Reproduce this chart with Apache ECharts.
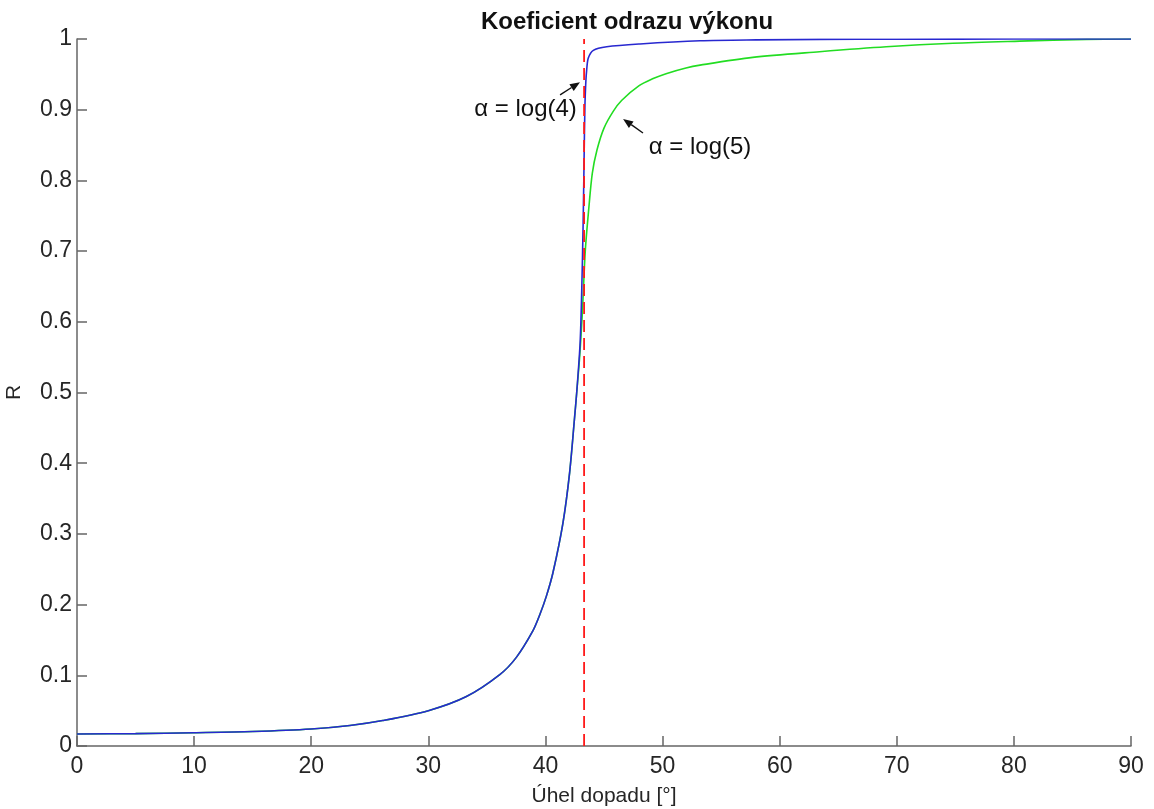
<!DOCTYPE html>
<html>
<head>
<meta charset="utf-8">
<script src="https://cdn.jsdelivr.net/npm/echarts@6/dist/echarts.min.js"></script>
<style>
  html, body { margin: 0; padding: 0; background: #fff; }
  #chart { width: 1154px; height: 809px; }
</style>
</head>
<body>
<div id="chart"></div>
<script>
// Power reflection coefficient vs. angle of incidence (degrees)
const anglesLog4 = [0, 5, 10, 15, 20, 23.3, 26.1, 30, 33.25, 36.1, 37.5, 38.9, 39.5, 40.08, 40.64, 41.49, 42.06, 42.49, 42.67, 42.96, 43.1, 43.22, 43.3, 43.37, 43.45, 43.52, 43.66, 44.09, 45.23, 48.07, 53.2, 58, 63.4, 70, 80, 90];
const rLog4 = [0.017, 0.0175, 0.0188, 0.0205, 0.024, 0.029, 0.036, 0.05, 0.07, 0.101, 0.125, 0.162, 0.185, 0.212, 0.245, 0.315, 0.386, 0.465, 0.5, 0.57, 0.645, 0.74, 0.83, 0.905, 0.94, 0.956, 0.973, 0.984, 0.989, 0.993, 0.9975, 0.9988, 0.9994, 0.9997, 0.9999, 1.0];

const anglesLog5 = [0, 5, 10, 15, 20, 23.3, 26.1, 30, 33.25, 36.1, 37.5, 38.9, 39.5, 40.08, 40.64, 41.49, 42.06, 42.49, 42.67, 42.92, 43.15, 43.4, 43.7, 44.0, 44.4, 45.0, 45.8, 46.5, 48.0, 49.2, 50.3, 52.0, 53.2, 57.7, 63.4, 69.1, 74.8, 80.5, 86.2, 90];
const rLog5 = [0.017, 0.0175, 0.0188, 0.0205, 0.024, 0.029, 0.036, 0.05, 0.07, 0.101, 0.125, 0.162, 0.185, 0.212, 0.245, 0.315, 0.386, 0.465, 0.5, 0.55, 0.612, 0.7, 0.76, 0.81, 0.843, 0.874, 0.898, 0.913, 0.934, 0.944, 0.951, 0.959, 0.963, 0.974, 0.982, 0.989, 0.994, 0.997, 0.9995, 1.0];

// Critical angle marker
const criticalAngle = 43.3;

const xTicks = [0, 10, 20, 30, 40, 50, 60, 70, 80, 90];
const yTicks = [0, 0.1, 0.2, 0.3, 0.4, 0.5, 0.6, 0.7, 0.8, 0.9, 1];

// Annotation anchors in data coordinates: [label, textAt, arrowFrom, arrowTo]
const notes = [
  ['α = log(4)', [38.3, 0.9], [41.25, 0.921], [42.95, 0.939]],
  ['α = log(5)', [53.2, 0.847], [48.33, 0.867], [46.63, 0.887]]
];

const FONT = '"Liberation Sans", Arial, sans-serif';
const AX = '#666';

const chart = echarts.init(document.getElementById('chart'), null, { renderer: 'canvas' });

const zip = (a, b) => a.map((v, i) => [v, b[i]]);

chart.setOption({
  animation: false,
  title: {
    text: 'Koeficient odrazu výkonu',
    left: 476, top: 5,
    textStyle: { fontFamily: FONT, fontWeight: 'bold', fontSize: 24, color: '#111' }
  },
  grid: { left: 77, right: 23, top: 39, bottom: 63, containLabel: false, outerBoundsMode: 'none' },
  xAxis: {
    type: 'value', min: 0, max: 90, interval: 10,
    name: 'Úhel dopadu [°]', nameLocation: 'middle', nameGap: 40,
    nameTextStyle: { fontFamily: FONT, fontSize: 21, color: '#262626' },
    axisLine: { show: true, lineStyle: { color: AX, width: 1.5 } },
    axisTick: { inside: true, length: 10, lineStyle: { color: AX, width: 1.5 } },
    axisLabel: { fontFamily: FONT, fontSize: 23, color: '#262626', margin: 9,
      formatter: v => xTicks.includes(v) ? String(v) : '' },
    splitLine: { show: false }
  },
  yAxis: {
    type: 'value', min: 0, max: 1, interval: 0.1,
    name: 'R', nameLocation: 'middle', nameGap: 52, nameRotate: 90,
    nameTextStyle: { fontFamily: FONT, fontSize: 21, color: '#262626' },
    axisLine: { show: true, lineStyle: { color: AX, width: 1.5 } },
    axisTick: { inside: true, length: 10, lineStyle: { color: AX, width: 1.5 } },
    axisLabel: { fontFamily: FONT, fontSize: 23, color: '#262626', margin: 5,
      formatter: v => {
        const t = yTicks.find(y => Math.abs(y - v) < 1e-9);
        return t === undefined ? '' : String(t);
      } },
    splitLine: { show: false }
  },
  series: [
    {
      name: 'α = log(5)', type: 'line', data: zip(anglesLog5, rLog5),
      showSymbol: false, smooth: 0.3,
      lineStyle: { color: '#22dd22', width: 1.6 }, z: 2
    },
    {
      name: 'α = log(4)', type: 'line', data: zip(anglesLog4, rLog4),
      showSymbol: false, smooth: 0.3,
      lineStyle: { color: '#2828d0', width: 1.6 }, z: 3
    },
    {
      name: 'critical', type: 'line', data: [[criticalAngle, 0], [criticalAngle, 1]],
      showSymbol: false,
      lineStyle: { color: '#ff1a1a', width: 1.8, type: [12, 6] }, z: 4
    }
  ]
});

// Arrows and labels placed through the chart's own coordinate system
function drawNotes() {
  const els = [];
  notes.forEach(([label, at, from, to]) => {
    const p = chart.convertToPixel({ gridIndex: 0 }, at);
    const a = chart.convertToPixel({ gridIndex: 0 }, from);
    const b = chart.convertToPixel({ gridIndex: 0 }, to);
    els.push({
      type: 'text', x: p[0], y: p[1], z: 10,
      style: { text: label, font: '24px ' + FONT, fill: '#111', align: 'center', verticalAlign: 'middle' }
    });
    const ang = Math.atan2(b[1] - a[1], b[0] - a[0]);
    const hl = 10, hw = 4;
    const bx = b[0] - hl * Math.cos(ang), by = b[1] - hl * Math.sin(ang);
    els.push({
      type: 'line', z: 10,
      shape: { x1: a[0], y1: a[1], x2: bx, y2: by },
      style: { stroke: '#111', lineWidth: 1.4 }
    });
    els.push({
      type: 'polygon', z: 10,
      shape: { points: [
        [b[0], b[1]],
        [bx + hw * Math.sin(ang), by - hw * Math.cos(ang)],
        [bx - hw * Math.sin(ang), by + hw * Math.cos(ang)]
      ] },
      style: { fill: '#111' }
    });
  });
  chart.setOption({ graphic: { elements: els } });
}
drawNotes();
</script>
</body>
</html>
